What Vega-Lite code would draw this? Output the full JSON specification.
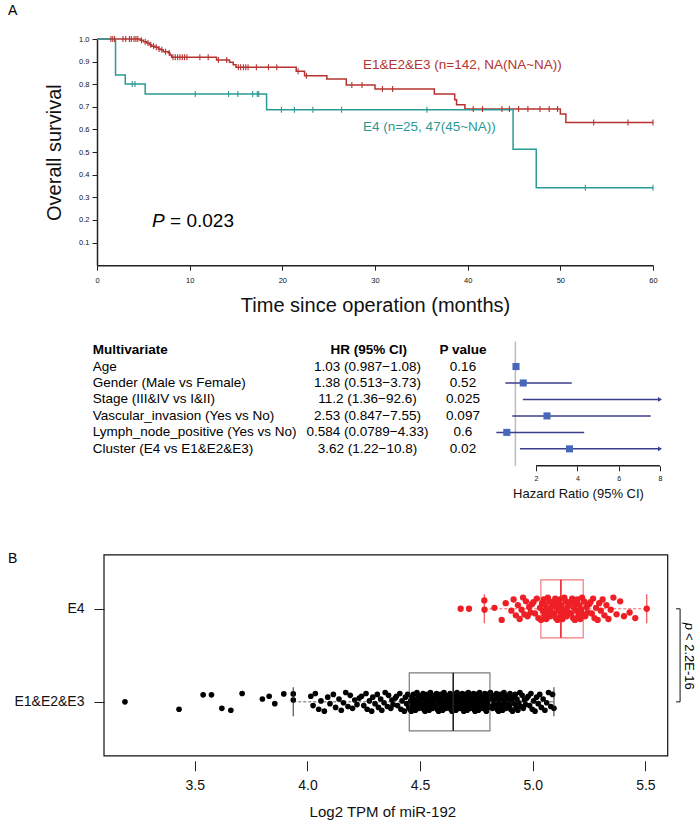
{
  "$schema": "https://vega.github.io/schema/vega-lite/v6.json",
  "padding": {"left": 8, "top": 3, "right": 4, "bottom": 4},
  "config": {
    "font": "Liberation Sans",
    "view": {"stroke": null},
    "axis": {"grid": false, "domainColor": "#222222", "tickColor": "#222222", "labelColor": "#111111", "titleColor": "#111111", "titleFontWeight": "normal", "labelFlush": false, "labelOverlap": false, "labelBound": false}
  },
  "datasets": {
    "km1": [{"t":0,"s":1},{"t":4.64,"s":0.994},{"t":5.0,"s":0.988},{"t":5.36,"s":0.982},{"t":5.65,"s":0.975},{"t":5.9,"s":0.968},{"t":6.26,"s":0.963},{"t":6.62,"s":0.956},{"t":6.87,"s":0.953},{"t":7.16,"s":0.944},{"t":7.7,"s":0.938},{"t":7.87,"s":0.929},{"t":8.05,"s":0.919},{"t":12.9,"s":0.907},{"t":14.3,"s":0.897},{"t":14.7,"s":0.886},{"t":15.0,"s":0.875},{"t":21.5,"s":0.857},{"t":22.4,"s":0.838},{"t":24.8,"s":0.823},{"t":26.9,"s":0.797},{"t":30.0,"s":0.779},{"t":36.4,"s":0.757},{"t":38.6,"s":0.731},{"t":38.8,"s":0.709},{"t":39.7,"s":0.69},{"t":50.0,"s":0.668},{"t":50.6,"s":0.631},{"t":60,"s":0.631}],
    "c1": [{"t":1.5,"s":1},{"t":1.7,"s":1},{"t":1.9,"s":1},{"t":2.8,"s":1},{"t":3.1,"s":1},{"t":3.5,"s":1},{"t":3.7,"s":1},{"t":4.0,"s":1},{"t":4.2,"s":1},{"t":4.4,"s":1},{"t":4.8,"s":0.994},{"t":5.2,"s":0.988},{"t":5.5,"s":0.982},{"t":5.8,"s":0.975},{"t":6.1,"s":0.968},{"t":6.4,"s":0.963},{"t":6.7,"s":0.956},{"t":7.0,"s":0.953},{"t":7.4,"s":0.944},{"t":7.8,"s":0.938},{"t":8.2,"s":0.919},{"t":8.45,"s":0.919},{"t":8.7,"s":0.919},{"t":8.95,"s":0.919},{"t":9.2,"s":0.919},{"t":9.45,"s":0.919},{"t":9.7,"s":0.919},{"t":11.1,"s":0.919},{"t":12.0,"s":0.919},{"t":13.1,"s":0.907},{"t":14.0,"s":0.907},{"t":15.25,"s":0.875},{"t":15.5,"s":0.875},{"t":15.8,"s":0.875},{"t":16.05,"s":0.875},{"t":16.3,"s":0.875},{"t":17.2,"s":0.875},{"t":18.5,"s":0.875},{"t":19.4,"s":0.875},{"t":21.7,"s":0.857},{"t":22.6,"s":0.838},{"t":27.5,"s":0.797},{"t":28.6,"s":0.797},{"t":30.8,"s":0.779},{"t":31.9,"s":0.779},{"t":40.6,"s":0.69},{"t":41.6,"s":0.69},{"t":43.7,"s":0.69},{"t":44.5,"s":0.69},{"t":45.5,"s":0.69},{"t":46.5,"s":0.69},{"t":47.8,"s":0.69},{"t":48.8,"s":0.69},{"t":49.7,"s":0.69},{"t":53.6,"s":0.631},{"t":57.3,"s":0.631},{"t":60,"s":0.631}],
    "km4": [{"t":0,"s":1},{"t":2.0,"s":0.841},{"t":3.05,"s":0.801},{"t":5.2,"s":0.757},{"t":18.3,"s":0.687},{"t":44.9,"s":0.513},{"t":47.4,"s":0.342},{"t":60,"s":0.342}],
    "c4": [{"t":3.8,"s":0.801},{"t":4.1,"s":0.801},{"t":10.6,"s":0.757},{"t":14.2,"s":0.757},{"t":15.2,"s":0.757},{"t":16.8,"s":0.757},{"t":17.3,"s":0.757},{"t":17.45,"s":0.757},{"t":19.9,"s":0.687},{"t":21.3,"s":0.687},{"t":23.3,"s":0.687},{"t":26.4,"s":0.687},{"t":35.6,"s":0.687},{"t":52.7,"s":0.342},{"t":60,"s":0.342}],
    "forest": [
      {"row":1,"var":"Age","hrci":"1.03 (0.987−1.08)","p":"0.16","hr":1.03,"lo":0.987,"hi":1.08},
      {"row":2,"var":"Gender (Male vs Female)","hrci":"1.38 (0.513−3.73)","p":"0.52","hr":1.38,"lo":0.513,"hi":3.73},
      {"row":3,"var":"Stage (III&IV vs I&II)","hrci":"11.2 (1.36−92.6)","p":"0.025","hr":11.2,"lo":1.36,"hi":92.6},
      {"row":4,"var":"Vascular_invasion (Yes vs No)","hrci":"2.53 (0.847−7.55)","p":"0.097","hr":2.53,"lo":0.847,"hi":7.55},
      {"row":5,"var":"Lymph_node_positive (Yes vs No)","hrci":"0.584 (0.0789−4.33)","p":"0.6","hr":0.584,"lo":0.0789,"hi":4.33},
      {"row":6,"var":"Cluster (E4 vs E1&E2&E3)","hrci":"3.62 (1.22−10.8)","p":"0.02","hr":3.62,"lo":1.22,"hi":10.8}
    ],
    "boxes": [
      {"grp":"E1&E2&E3","y":1,"lo":3.937,"q1":4.452,"med":4.647,"q3":4.81,"hi":5.094},
      {"grp":"E4","y":2,"lo":4.785,"q1":5.036,"med":5.125,"q3":5.224,"hi":5.506}
    ],
    "e4": [{"v":4.68,"y":2.0},{"v":4.717,"y":2.0},{"v":4.785,"y":2.09},{"v":4.786,"y":1.99},{"v":4.83,"y":2.01},{"v":4.862,"y":1.88},{"v":4.88,"y":2.06},{"v":4.905,"y":1.98},{"v":4.915,"y":2.1},{"v":4.925,"y":1.93},{"v":4.934,"y":2.04},{"v":4.942,"y":1.89},{"v":4.95,"y":1.99},{"v":4.957,"y":2.12},{"v":4.963,"y":1.94},{"v":4.97,"y":2.08},{"v":4.977,"y":1.92},{"v":4.984,"y":2.02},{"v":4.99,"y":1.96},{"v":4.996,"y":2.05},{"v":5.003,"y":2.07},{"v":5.01,"y":1.95},{"v":5.018,"y":2.11},{"v":5.025,"y":1.9},{"v":5.032,"y":2.01},{"v":5.037,"y":1.88},{"v":5.041,"y":2.06},{"v":5.045,"y":1.98},{"v":5.049,"y":2.1},{"v":5.052,"y":1.93},{"v":5.056,"y":2.04},{"v":5.06,"y":1.89},{"v":5.063,"y":1.99},{"v":5.067,"y":2.12},{"v":5.071,"y":1.94},{"v":5.074,"y":2.08},{"v":5.078,"y":1.92},{"v":5.082,"y":2.02},{"v":5.085,"y":1.96},{"v":5.089,"y":2.05},{"v":5.092,"y":2.07},{"v":5.096,"y":1.95},{"v":5.1,"y":2.11},{"v":5.103,"y":1.9},{"v":5.107,"y":2.01},{"v":5.11,"y":1.88},{"v":5.114,"y":2.06},{"v":5.117,"y":1.98},{"v":5.121,"y":2.1},{"v":5.124,"y":1.93},{"v":5.128,"y":2.04},{"v":5.132,"y":1.89},{"v":5.136,"y":1.99},{"v":5.14,"y":2.12},{"v":5.144,"y":1.94},{"v":5.148,"y":2.08},{"v":5.151,"y":1.92},{"v":5.155,"y":2.02},{"v":5.159,"y":1.96},{"v":5.163,"y":2.05},{"v":5.167,"y":2.07},{"v":5.171,"y":1.95},{"v":5.175,"y":2.11},{"v":5.179,"y":1.9},{"v":5.183,"y":2.01},{"v":5.187,"y":1.88},{"v":5.191,"y":2.06},{"v":5.195,"y":1.98},{"v":5.199,"y":2.1},{"v":5.203,"y":1.93},{"v":5.207,"y":2.04},{"v":5.211,"y":1.89},{"v":5.215,"y":1.99},{"v":5.219,"y":2.12},{"v":5.223,"y":1.94},{"v":5.228,"y":2.08},{"v":5.233,"y":1.92},{"v":5.239,"y":2.02},{"v":5.244,"y":1.96},{"v":5.25,"y":2.05},{"v":5.256,"y":2.07},{"v":5.262,"y":1.95},{"v":5.268,"y":2.11},{"v":5.274,"y":1.9},{"v":5.281,"y":2.01},{"v":5.288,"y":1.88},{"v":5.295,"y":2.06},{"v":5.302,"y":1.98},{"v":5.31,"y":2.1},{"v":5.318,"y":1.93},{"v":5.327,"y":2.04},{"v":5.336,"y":1.89},{"v":5.346,"y":1.99},{"v":5.358,"y":2.12},{"v":5.372,"y":1.94},{"v":5.388,"y":2.08},{"v":5.405,"y":1.92},{"v":5.43,"y":1.96},{"v":5.455,"y":1.9},{"v":5.506,"y":2.0}],
    "e123": [{"v":3.19,"y":1.0},{"v":3.43,"y":0.92},{"v":3.537,"y":1.075},{"v":3.574,"y":1.075},{"v":3.62,"y":0.93},{"v":3.66,"y":0.91},{"v":3.71,"y":1.09},{"v":3.8,"y":1.03},{"v":3.83,"y":1.06},{"v":3.855,"y":0.98},{"v":3.895,"y":1.085},{"v":3.937,"y":1.085},{"v":3.937,"y":1.02},
      {"v":4.015,"y":1.06},{"v":4.025,"y":0.96},{"v":4.035,"y":1.09},{"v":4.05,"y":0.92},{"v":4.06,"y":1.01},{"v":4.075,"y":0.9},{"v":4.09,"y":1.05},{"v":4.1,"y":0.98},{"v":4.115,"y":1.08},{"v":4.125,"y":0.94},{"v":4.14,"y":1.03},{"v":4.15,"y":0.91},{"v":4.16,"y":0.99},{"v":4.17,"y":1.1},{"v":4.18,"y":0.95},{"v":4.19,"y":1.07},{"v":4.2,"y":0.93},{"v":4.21,"y":1.02},{"v":4.22,"y":0.97},{"v":4.23,"y":1.04},{"v":4.24,"y":1.06},{"v":4.25,"y":0.96},{"v":4.26,"y":1.09},{"v":4.265,"y":0.92},{"v":4.275,"y":1.01},{"v":4.285,"y":0.9},{"v":4.29,"y":1.05},{"v":4.3,"y":0.98},{"v":4.31,"y":1.08},{"v":4.315,"y":0.94},{"v":4.325,"y":1.03},{"v":4.33,"y":0.91},{"v":4.34,"y":0.99},{"v":4.345,"y":1.1},{"v":4.355,"y":0.95},{"v":4.36,"y":1.07},{"v":4.37,"y":0.93},{"v":4.375,"y":1.02},{"v":4.38,"y":0.97},{"v":4.39,"y":1.04},{"v":4.395,"y":1.06},{"v":4.4,"y":0.96},{"v":4.41,"y":1.09},{"v":4.415,"y":0.92},{"v":4.42,"y":1.01},{"v":4.43,"y":0.9},{"v":4.435,"y":1.05},{"v":4.44,"y":0.98},{"v":4.445,"y":1.08},{"v":4.45,"y":0.94},
      {"v":4.455,"y":0.92},{"v":4.458,"y":1.01},{"v":4.461,"y":0.9},{"v":4.464,"y":1.05},{"v":4.467,"y":0.98},{"v":4.47,"y":1.08},{"v":4.473,"y":0.94},{"v":4.476,"y":1.03},{"v":4.479,"y":0.91},{"v":4.482,"y":0.99},{"v":4.486,"y":1.1},{"v":4.489,"y":0.95},{"v":4.492,"y":1.07},{"v":4.495,"y":0.93},{"v":4.498,"y":1.02},{"v":4.501,"y":0.97},{"v":4.504,"y":1.04},{"v":4.507,"y":1.06},{"v":4.51,"y":0.96},{"v":4.513,"y":1.09},{"v":4.516,"y":0.92},{"v":4.519,"y":1.01},{"v":4.522,"y":0.9},{"v":4.525,"y":1.05},{"v":4.528,"y":0.98},{"v":4.531,"y":1.08},{"v":4.534,"y":0.94},{"v":4.537,"y":1.03},{"v":4.54,"y":0.91},{"v":4.543,"y":0.99},{"v":4.546,"y":1.1},{"v":4.549,"y":0.95},{"v":4.552,"y":1.07},{"v":4.555,"y":0.93},{"v":4.558,"y":1.02},{"v":4.561,"y":0.97},{"v":4.564,"y":1.04},{"v":4.567,"y":1.06},{"v":4.57,"y":0.96},{"v":4.573,"y":1.09},{"v":4.576,"y":0.92},{"v":4.579,"y":1.01},{"v":4.582,"y":0.9},{"v":4.585,"y":1.05},{"v":4.588,"y":0.98},{"v":4.591,"y":1.08},{"v":4.594,"y":0.94},{"v":4.597,"y":1.03},{"v":4.6,"y":0.91},{"v":4.603,"y":0.99},{"v":4.606,"y":1.1},{"v":4.609,"y":0.95},{"v":4.612,"y":1.07},{"v":4.615,"y":0.93},{"v":4.618,"y":1.02},{"v":4.621,"y":0.97},{"v":4.624,"y":1.04},{"v":4.627,"y":1.06},{"v":4.63,"y":0.96},{"v":4.633,"y":1.09},{"v":4.636,"y":0.92},{"v":4.639,"y":1.01},{"v":4.642,"y":0.9},{"v":4.645,"y":1.05},
      {"v":4.649,"y":0.98},{"v":4.652,"y":1.08},{"v":4.654,"y":0.94},{"v":4.657,"y":1.03},{"v":4.659,"y":0.91},{"v":4.662,"y":0.99},{"v":4.664,"y":1.1},{"v":4.667,"y":0.95},{"v":4.669,"y":1.07},{"v":4.672,"y":0.93},{"v":4.674,"y":1.02},{"v":4.677,"y":0.97},{"v":4.679,"y":1.04},{"v":4.682,"y":1.06},{"v":4.684,"y":0.96},{"v":4.687,"y":1.09},{"v":4.689,"y":0.92},{"v":4.692,"y":1.01},{"v":4.694,"y":0.9},{"v":4.697,"y":1.05},{"v":4.699,"y":0.98},{"v":4.702,"y":1.08},{"v":4.704,"y":0.94},{"v":4.707,"y":1.03},{"v":4.709,"y":0.91},{"v":4.712,"y":0.99},{"v":4.714,"y":1.1},{"v":4.717,"y":0.95},{"v":4.719,"y":1.07},{"v":4.722,"y":0.93},{"v":4.724,"y":1.02},{"v":4.727,"y":0.97},{"v":4.729,"y":1.04},{"v":4.732,"y":1.06},{"v":4.734,"y":0.96},{"v":4.737,"y":1.09},{"v":4.739,"y":0.92},{"v":4.742,"y":1.01},{"v":4.744,"y":0.9},{"v":4.747,"y":1.05},{"v":4.749,"y":0.98},{"v":4.752,"y":1.08},{"v":4.754,"y":0.94},{"v":4.757,"y":1.03},{"v":4.759,"y":0.91},{"v":4.762,"y":0.99},{"v":4.764,"y":1.1},{"v":4.767,"y":0.95},{"v":4.769,"y":1.07},{"v":4.772,"y":0.93},{"v":4.774,"y":1.02},{"v":4.777,"y":0.97},{"v":4.779,"y":1.04},{"v":4.782,"y":1.06},{"v":4.784,"y":0.96},{"v":4.787,"y":1.09},{"v":4.789,"y":0.92},{"v":4.792,"y":1.01},{"v":4.794,"y":0.9},{"v":4.797,"y":1.05},{"v":4.799,"y":0.98},{"v":4.802,"y":1.08},{"v":4.804,"y":0.94},{"v":4.807,"y":1.03},
      {"v":4.812,"y":1.1},{"v":4.815,"y":0.95},{"v":4.818,"y":1.07},{"v":4.821,"y":0.93},{"v":4.824,"y":1.02},{"v":4.827,"y":0.97},{"v":4.83,"y":1.04},{"v":4.833,"y":1.06},{"v":4.836,"y":0.96},{"v":4.839,"y":1.09},{"v":4.842,"y":0.92},{"v":4.845,"y":1.01},{"v":4.848,"y":0.9},{"v":4.851,"y":1.05},{"v":4.854,"y":0.98},{"v":4.857,"y":1.08},{"v":4.86,"y":0.94},{"v":4.863,"y":1.03},{"v":4.866,"y":0.91},{"v":4.869,"y":0.99},{"v":4.872,"y":1.1},{"v":4.875,"y":0.95},{"v":4.878,"y":1.07},{"v":4.881,"y":0.93},{"v":4.884,"y":1.02},{"v":4.887,"y":0.97},{"v":4.89,"y":1.04},{"v":4.893,"y":1.06},{"v":4.896,"y":0.96},{"v":4.899,"y":1.09},{"v":4.902,"y":0.92},{"v":4.906,"y":1.01},{"v":4.91,"y":0.9},{"v":4.914,"y":1.05},{"v":4.918,"y":0.98},{"v":4.922,"y":1.08},{"v":4.926,"y":0.94},{"v":4.93,"y":1.03},{"v":4.934,"y":0.91},{"v":4.938,"y":0.99},{"v":4.943,"y":1.1},{"v":4.948,"y":0.95},{"v":4.953,"y":1.07},{"v":4.958,"y":0.93},{"v":4.963,"y":1.02},{"v":4.968,"y":0.97},{"v":4.974,"y":1.04},{"v":4.98,"y":1.06},{"v":4.986,"y":0.96},{"v":4.992,"y":1.09},{"v":4.998,"y":0.92},{"v":5.004,"y":1.01},{"v":5.01,"y":0.9},{"v":5.017,"y":1.05},{"v":5.024,"y":0.98},{"v":5.031,"y":1.08},{"v":5.038,"y":0.94},{"v":5.046,"y":1.03},{"v":5.054,"y":0.91},{"v":5.062,"y":0.99},{"v":5.07,"y":1.1},{"v":5.08,"y":0.95},{"v":5.088,"y":1.08},{"v":5.094,"y":0.93}]
  },
  "bounds": "flush",
  "spacing": 75.5,
  "vconcat": [
    {
      "width": 556,
      "height": 226.2,
      "layer": [
        {
          "data": {"name": "km1"},
          "mark": {"type": "line", "interpolate": "step-after", "color": "#b5332f", "strokeWidth": 1.5},
          "encoding": {
            "x": {"field": "t", "type": "quantitative", "scale": {"domain": [0, 60], "nice": false, "zero": false},
                  "axis": {"values": [0, 10, 20, 30, 40, 50, 60], "tickCount": 30, "tickSize": 5, "domainWidth": 1.5, "labelFontSize": 7.5, "labelPadding": 6, "title": "Time since operation (months)", "titleFontSize": 20, "titlePadding": 12}},
            "y": {"field": "s", "type": "quantitative", "scale": {"domain": [0, 1], "nice": false},
                  "axis": {"values": [0.1, 0.2, 0.3, 0.4, 0.5, 0.6, 0.7, 0.8, 0.9, 1.0], "tickCount": 30, "format": ".1f", "tickSize": 5, "domainWidth": 1.5, "labelFontSize": 7.5, "labelPadding": 3, "title": "Overall survival", "titleFontSize": 20, "titlePadding": 14}}
          }
        },
        {
          "data": {"name": "km4"},
          "mark": {"type": "line", "interpolate": "step-after", "color": "#2a9a94", "strokeWidth": 1.5},
          "encoding": {"x": {"field": "t", "type": "quantitative"}, "y": {"field": "s", "type": "quantitative"}}
        },
        {
          "data": {"name": "c1"},
          "mark": {"type": "tick", "orient": "vertical", "color": "#b5332f", "size": 6, "thickness": 1.1, "opacity": 1},
          "encoding": {"x": {"field": "t", "type": "quantitative"}, "y": {"field": "s", "type": "quantitative"}}
        },
        {
          "data": {"name": "c4"},
          "mark": {"type": "tick", "orient": "vertical", "color": "#2a9a94", "size": 6, "thickness": 1.1, "opacity": 1},
          "encoding": {"x": {"field": "t", "type": "quantitative"}, "y": {"field": "s", "type": "quantitative"}}
        },
        {
          "data": {"values": [{}]},
          "mark": {"type": "text", "text": "E1&E2&E3 (n=142, NA(NA~NA))", "align": "left", "baseline": "middle", "fontSize": 13.5, "color": "#b5332f"},
          "encoding": {"x": {"datum": 28.7}, "y": {"datum": 0.884}}
        },
        {
          "data": {"values": [{}]},
          "mark": {"type": "text", "text": "E4 (n=25, 47(45~NA))", "align": "left", "baseline": "middle", "fontSize": 13.5, "color": "#2a9a94"},
          "encoding": {"x": {"datum": 28.7}, "y": {"datum": 0.609}}
        },
        {
          "data": {"values": [{}]},
          "mark": {"type": "text", "text": "P", "align": "left", "baseline": "middle", "fontSize": 19, "fontStyle": "italic", "color": "black"},
          "encoding": {"x": {"datum": 5.94}, "y": {"datum": 0.197}}
        },
        {
          "data": {"values": [{}]},
          "mark": {"type": "text", "text": "= 0.023", "align": "left", "baseline": "middle", "fontSize": 19, "color": "black"},
          "encoding": {"x": {"datum": 7.88}, "y": {"datum": 0.197}}
        },
        {
          "data": {"values": [{}]},
          "mark": {"type": "text", "text": "A", "align": "left", "baseline": "top", "fontSize": 14, "color": "black"},
          "encoding": {"x": {"datum": -9.6}, "y": {"datum": 1.156}}
        }
      ]
    },
    {
      "width": 563,
      "height": 124.3,
      "resolve": {"scale": {"x": "independent"}, "axis": {"x": "independent"}},
      "layer": [
        {
          "layer": [
            {
              "data": {"name": "forest"},
              "mark": {"type": "text", "align": "left", "baseline": "middle", "fontSize": 13.5, "color": "black"},
              "encoding": {
                "x": {"datum": -0.0076, "type": "quantitative", "scale": {"domain": [0, 1], "nice": false, "zero": false}, "axis": null},
                "y": {"field": "row", "type": "quantitative", "scale": {"domain": [-0.52, 7.03], "reverse": true, "nice": false, "zero": false}, "axis": null},
                "text": {"field": "var"}
              }
            },
            {
              "data": {"name": "forest"},
              "mark": {"type": "text", "align": "center", "baseline": "middle", "fontSize": 13.5, "color": "black"},
              "encoding": {
                "x": {"datum": 0.4805, "type": "quantitative"},
                "y": {"field": "row", "type": "quantitative"},
                "text": {"field": "hrci"}
              }
            },
            {
              "data": {"name": "forest"},
              "mark": {"type": "text", "align": "center", "baseline": "middle", "fontSize": 13.5, "color": "black"},
              "encoding": {
                "x": {"datum": 0.6501, "type": "quantitative"},
                "y": {"field": "row", "type": "quantitative"},
                "text": {"field": "p"}
              }
            },
            {
              "data": {"values": [{}]},
              "mark": {"type": "text", "text": "Multivariate", "align": "left", "baseline": "middle", "fontSize": 13.5, "fontWeight": "bold", "color": "black"},
              "encoding": {"x": {"datum": -0.0076, "type": "quantitative"}, "y": {"datum": 0, "type": "quantitative"}}
            },
            {
              "data": {"values": [{}]},
              "mark": {"type": "text", "text": "HR (95% CI)", "align": "center", "baseline": "middle", "fontSize": 13.5, "fontWeight": "bold", "color": "black"},
              "encoding": {"x": {"datum": 0.4825, "type": "quantitative"}, "y": {"datum": 0, "type": "quantitative"}}
            },
            {
              "data": {"values": [{}]},
              "mark": {"type": "text", "text": "P value", "align": "center", "baseline": "middle", "fontSize": 13.5, "fontWeight": "bold", "color": "black"},
              "encoding": {"x": {"datum": 0.6501, "type": "quantitative"}, "y": {"datum": 0, "type": "quantitative"}}
            }
          ]
        },
        {
          "layer": [
            {
              "data": {"values": [{}]},
              "mark": {"type": "rule", "color": "#bbbbbb", "strokeWidth": 1.5},
              "encoding": {
                "x": {"datum": 1, "type": "quantitative", "scale": {"domain": [-19.25, 8], "nice": false, "zero": false, "clamp": true},
                      "axis": {"orient": "bottom", "values": [2, 4, 6, 8], "tickCount": 30, "format": "d", "domain": false, "tickSize": 5, "labelFontSize": 7, "labelPadding": 4, "title": "Hazard Ratio (95% CI)", "titleFontSize": 13, "titlePadding": 6, "titleX": 481}},
                "y": {"datum": -0.52, "type": "quantitative"},
                "y2": {"datum": 7.03}
              }
            },
            {
              "data": {"name": "forest"},
              "mark": {"type": "rule", "color": "#3b3e8e", "strokeWidth": 1.5},
              "encoding": {"x": {"field": "lo", "type": "quantitative"}, "x2": {"field": "hi"}, "y": {"field": "row", "type": "quantitative"}}
            },
            {
              "data": {"name": "forest"},
              "transform": [{"filter": "datum.hi > 8"}],
              "mark": {"type": "point", "shape": "triangle-right", "filled": true, "color": "#3b3e8e", "size": 22, "opacity": 1},
              "encoding": {"x": {"field": "hi", "type": "quantitative"}, "y": {"field": "row", "type": "quantitative"}}
            },
            {
              "data": {"name": "forest"},
              "transform": [{"filter": "datum.hr <= 8"}],
              "mark": {"type": "square", "color": "#4767b8", "size": 50, "opacity": 1},
              "encoding": {"x": {"field": "hr", "type": "quantitative"}, "y": {"field": "row", "type": "quantitative"}}
            },
            {
              "data": {"values": [{}]},
              "mark": {"type": "rule", "color": "#222222", "strokeWidth": 1.5},
              "encoding": {"x": {"datum": 2, "type": "quantitative"}, "x2": {"datum": 8}, "y": {"datum": 7.03, "type": "quantitative"}}
            }
          ]
        }
      ]
    },
    {
      "width": 570.7,
      "height": 218.8,
      "layer": [
        {
          "data": {"values": [{}]},
          "mark": {"type": "rect", "filled": false, "color": "#111111", "strokeWidth": 1.2},
          "encoding": {
            "x": {"datum": 3.097, "type": "quantitative", "scale": {"domain": [3.0659, 5.599], "nice": false, "zero": false}},
            "x2": {"datum": 5.599},
            "y": {"datum": 0.42, "type": "quantitative", "scale": {"domain": [0.42, 2.664], "nice": false, "zero": false}},
            "y2": {"datum": 2.58}
          }
        },
        {
          "data": {"name": "e123"},
          "mark": {"type": "circle", "color": "#000000", "size": 32, "opacity": 1},
          "encoding": {
            "x": {"field": "v", "type": "quantitative",
                  "axis": {"values": [3.5, 4.0, 4.5, 5.0, 5.5], "tickCount": 30, "format": ".1f", "domain": false, "tickSize": 10, "labelFontSize": 14, "labelPadding": 8, "title": "Log2 TPM of miR-192", "titleFontSize": 15, "titlePadding": 12}},
            "y": {"field": "y", "type": "quantitative",
                  "axis": {"values": [1, 2], "tickCount": 30, "labelExpr": "datum.value == 2 ? 'E4' : 'E1&E2&E3'", "domain": false, "tickSize": 10, "offset": -7, "labelFontSize": 14, "labelPadding": 10, "title": null}}
          }
        },
        {
          "data": {"name": "e4"},
          "mark": {"type": "circle", "color": "#ee1f25", "size": 40, "opacity": 1},
          "encoding": {"x": {"field": "v", "type": "quantitative"}, "y": {"field": "y", "type": "quantitative"}}
        },
        {
          "data": {"name": "boxes"},
          "encoding": {
            "y": {"field": "y", "type": "quantitative"},
            "color": {"field": "grp", "type": "nominal", "scale": {"domain": ["E1&E2&E3", "E4"], "range": ["#222222", "#ee1f25"]}, "legend": null}
          },
          "layer": [
            {"mark": {"type": "rule", "strokeDash": [3, 2], "strokeWidth": 1, "opacity": 0.7}, "encoding": {"x": {"field": "lo", "type": "quantitative"}, "x2": {"field": "q1"}}},
            {"mark": {"type": "rule", "strokeDash": [3, 2], "strokeWidth": 1, "opacity": 0.7}, "encoding": {"x": {"field": "q3", "type": "quantitative"}, "x2": {"field": "hi"}}},
            {"mark": {"type": "tick", "orient": "vertical", "size": 29, "thickness": 1.2, "opacity": 0.8}, "encoding": {"x": {"field": "lo", "type": "quantitative"}}},
            {"mark": {"type": "tick", "orient": "vertical", "size": 29, "thickness": 1.2, "opacity": 0.8}, "encoding": {"x": {"field": "hi", "type": "quantitative"}}},
            {"mark": {"type": "bar", "filled": false, "height": 58, "strokeWidth": 1.2, "strokeOpacity": 0.6}, "encoding": {"x": {"field": "q1", "type": "quantitative"}, "x2": {"field": "q3"}}},
            {"mark": {"type": "tick", "orient": "vertical", "size": 58, "thickness": 1.6, "opacity": 1}, "encoding": {"x": {"field": "med", "type": "quantitative"}}}
          ]
        },
        {
          "data": {"values": [{}]},
          "mark": {"type": "rule", "color": "#111111", "strokeWidth": 1},
          "encoding": {"x": {"datum": 5.654}, "y": {"datum": 1}, "y2": {"datum": 2}}
        },
        {
          "data": {"values": [{}]},
          "mark": {"type": "rule", "color": "#111111", "strokeWidth": 1},
          "encoding": {"x": {"datum": 5.636}, "x2": {"datum": 5.654}, "y": {"datum": 2}}
        },
        {
          "data": {"values": [{}]},
          "mark": {"type": "rule", "color": "#111111", "strokeWidth": 1},
          "encoding": {"x": {"datum": 5.636}, "x2": {"datum": 5.654}, "y": {"datum": 1}}
        },
        {
          "data": {"values": [{}]},
          "mark": {"type": "text", "text": "p", "angle": 90, "align": "left", "baseline": "middle", "fontSize": 13, "fontStyle": "italic", "color": "black"},
          "encoding": {"x": {"datum": 5.694}, "y": {"datum": 1.851}}
        },
        {
          "data": {"values": [{}]},
          "mark": {"type": "text", "text": "< 2.2E-16", "angle": 90, "align": "left", "baseline": "middle", "fontSize": 13, "color": "black"},
          "encoding": {"x": {"datum": 5.694}, "y": {"datum": 1.74}}
        },
        {
          "data": {"values": [{}]},
          "mark": {"type": "text", "text": "B", "align": "left", "baseline": "top", "fontSize": 14, "color": "black"},
          "encoding": {"x": {"datum": 2.671}, "y": {"datum": 2.611}}
        }
      ]
    }
  ]
}
